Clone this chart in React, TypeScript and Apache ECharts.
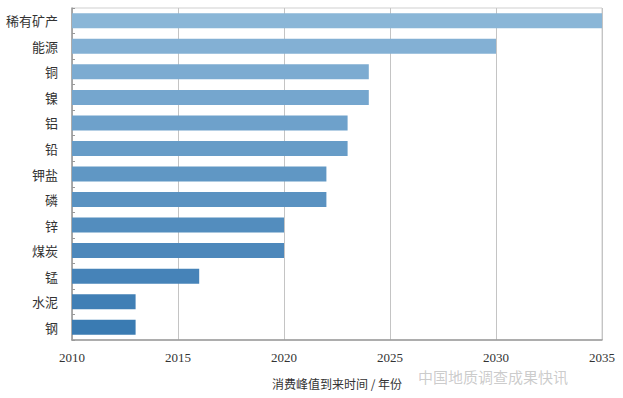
import React, { useEffect, useRef } from "react";
import * as echarts from "echarts";

const categories = ["稀有矿产", "能源", "铜", "镍", "铝", "铅", "钾盐", "磷", "锌", "煤炭", "锰", "水泥", "钢"];
const peakYears = [2035, 2030, 2024, 2024, 2023, 2023, 2022, 2022, 2020, 2020, 2016, 2013, 2013];
const barColors = [
  "#8ab6d7", "#83b0d4", "#7cabd1", "#75a6ce", "#6ea1cb", "#679cc7", "#6097c4",
  "#5a92c1", "#538dbe", "#4d88bb", "#4683b8", "#407fb5", "#3a7bb2",
];
const xTicks = { min: 2010, max: 2035, interval: 5 };
const axisName = "消费峰值到来时间 / 年份";
const watermark = "中国地质调查成果快讯";

export default function App() {
  const ref = useRef<HTMLDivElement>(null);
  useEffect(() => {
    if (!ref.current) return;
    const chart = echarts.init(ref.current, null, { renderer: "svg" });
    chart.setOption({
      animation: false,
      backgroundColor: "#ffffff",
      grid: {
        left: 72,
        right: 21,
        top: 8,
        bottom: 58,
        show: true,
        borderColor: "#cfcfcf",
        borderWidth: 1,
      },
      xAxis: {
        type: "value",
        min: xTicks.min,
        max: xTicks.max,
        interval: xTicks.interval,
        name: axisName,
        nameLocation: "middle",
        nameGap: 37,
        nameTextStyle: { fontFamily: "Noto Sans CJK SC", fontSize: 12, color: "#333" },
        axisLine: { show: true, lineStyle: { color: "#9a9a9a", width: 1.5 } },
        axisTick: { show: false },
        axisLabel: {
          fontFamily: "Liberation Serif",
          fontSize: 13,
          color: "#333",
          margin: 11,
          formatter: (v: number) => String(v),
        },
        splitLine: { show: true, lineStyle: { color: "#c4c4c4", width: 1 } },
      },
      yAxis: {
        type: "category",
        data: categories,
        inverse: true,
        axisLine: { show: true, lineStyle: { color: "#9a9a9a", width: 1.5 } },
        axisTick: { show: true, inside: true, length: 3, lineStyle: { color: "#999" } },
        axisLabel: {
          fontFamily: "Noto Sans CJK SC",
          fontSize: 13,
          color: "#333",
          margin: 14,
        },
      },
      series: [
        {
          type: "bar",
          data: peakYears.map((v, i) => ({ value: v, itemStyle: { color: barColors[i] } })),
          barWidth: 15,
          silent: true,
        },
      ],
      graphic: [
        {
          type: "text",
          left: 418,
          top: 369,
          style: {
            text: watermark,
            fontFamily: "Noto Sans CJK SC",
            fontSize: 15,
            fill: "rgba(160,160,160,0.55)",
          },
          silent: true,
        },
      ],
    });
    return () => chart.dispose();
  }, []);
  return <div ref={ref} style={{ width: 623, height: 398, position: "absolute", left: 0, top: 0 }} />;
}
